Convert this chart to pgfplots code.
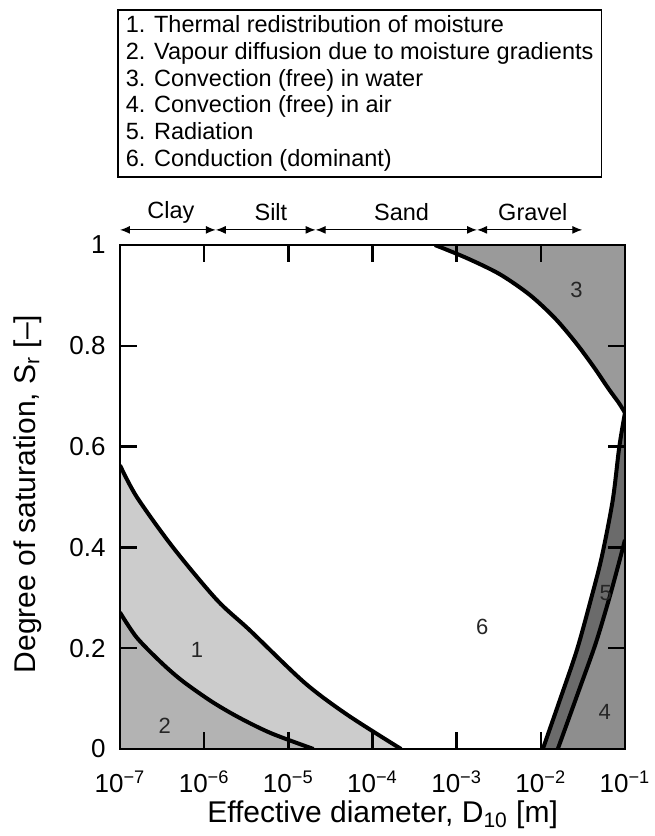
\documentclass[border=0pt]{standalone}
\usepackage{fontspec}
\setmainfont{Liberation Sans}
\usepackage{pgfplots}
\pgfplotsset{compat=1.18}
\usetikzlibrary{arrows.meta}
\definecolor{cA}{HTML}{CCCCCC}
\definecolor{cB}{HTML}{B3B3B3}
\definecolor{cC}{HTML}{9A9A9A}
\definecolor{cD}{HTML}{8E8E8E}
\definecolor{cE}{HTML}{6B6B6B}
\begin{document}
\begin{tikzpicture}
\begin{axis}[
  scale only axis, width=252.5pt, height=252pt,
  xmode=log, log basis x=10,
  xmin=1e-7, xmax=1e-1, ymin=0, ymax=1,
  xtick={1e-7,1e-6,1e-5,1e-4,1e-3,1e-2,1e-1},
  xticklabels={10\textsuperscript{−7},10\textsuperscript{−6},10\textsuperscript{−5},10\textsuperscript{−4},10\textsuperscript{−3},10\textsuperscript{−2},10\textsuperscript{−1}},
  ytick={0,0.2,0.4,0.6,0.8,1},
  yticklabels={0,0.2,0.4,0.6,0.8,1},
  xminorticks=false,
  tick pos=both, tick align=inside, major tick length=8.5pt,
  every tick/.style={black, line width=1.2pt},
  axis line style={line width=1.25pt},
  ticklabel style={font=\fontsize{13}{15}\selectfont},
  xticklabel style={yshift=-7.5pt},
  yticklabel style={xshift=-3.7pt},
  every axis x label/.style={at={(axis description cs:0.52,-0.146)}, anchor=base},
  every axis y label/.style={at={(axis description cs:-0.168,0.506)}, rotate=90, anchor=base},
  label style={font=\fontsize{15}{18}\selectfont},
  xlabel={Effective diameter, D\textsubscript{10} [m]},
  ylabel={Degree of saturation, S\textsubscript{r} [–]},
  axis on top, clip mode=individual,
]
% region 1 (thermal redistribution)
\addplot[fill=cA, draw=none, smooth] coordinates {
 (1e-7,0.563) (1.585e-7,0.500) (4.266e-7,0.400) (1.413e-6,0.296) (3.467e-6,0.236)
 (1.549e-5,0.132) (5.012e-5,0.068) (2.188e-4,0)} \closedcycle;
% region 2 (vapour diffusion)
\addplot[fill=cB, draw=none, smooth] coordinates {
 (1e-7,0.271) (1.585e-7,0.221) (3.162e-7,0.170) (5.623e-7,0.134) (1.259e-6,0.093)
 (2.692e-6,0.061) (6.310e-6,0.031) (1.995e-5,0)} \closedcycle;
% region 3 (convection in water)
\addplot[fill=cC, draw=none, smooth] coordinates {
 (5.508e-4,1) (1.321e-3,0.974) (3.258e-3,0.942) (7.396e-3,0.901) (1.466e-2,0.855)
 (2.606e-2,0.806) (4.256e-2,0.758) (6.427e-2,0.714) (8.433e-2,0.687) (0.1,0.667)} -- (axis cs:0.1,1) -- cycle;
% region 5 (radiation)
\addplot[fill=cE, draw=none, smooth] coordinates {
 (0.1,0.667) (8.551e-2,0.599) (7.161e-2,0.494) (5.297e-2,0.381) (3.926e-2,0.296)
 (2.679e-2,0.196) (1.683e-2,0.097) (1.057e-2,0)} -- (axis cs:0.1,0) -- cycle;
% region 4 (convection in air)
\addplot[fill=cD, draw=none, smooth] coordinates {
 (1.592e-2,0) (2.904e-2,0.121) (4.498e-2,0.210) (6.427e-2,0.296) (8.222e-2,0.361) (0.1,0.415)} -- (axis cs:0.1,0) -- cycle;
% boundaries
\addplot[black, line width=2pt, smooth] coordinates {
 (1e-7,0.563) (1.585e-7,0.500) (4.266e-7,0.400) (1.413e-6,0.296) (3.467e-6,0.236)
 (1.549e-5,0.132) (5.012e-5,0.068) (2.188e-4,0)};
\addplot[black, line width=2pt, smooth] coordinates {
 (1e-7,0.271) (1.585e-7,0.221) (3.162e-7,0.170) (5.623e-7,0.134) (1.259e-6,0.093)
 (2.692e-6,0.061) (6.310e-6,0.031) (1.995e-5,0)};
\addplot[black, line width=2pt, smooth] coordinates {
 (5.508e-4,1) (1.321e-3,0.974) (3.258e-3,0.942) (7.396e-3,0.901) (1.466e-2,0.855)
 (2.606e-2,0.806) (4.256e-2,0.758) (6.427e-2,0.714) (8.433e-2,0.687) (0.1,0.667)};
\addplot[black, line width=2pt, smooth] coordinates {
 (0.1,0.667) (8.551e-2,0.599) (7.161e-2,0.494) (5.297e-2,0.381) (3.926e-2,0.296)
 (2.679e-2,0.196) (1.683e-2,0.097) (1.057e-2,0)};
\addplot[black, line width=2pt, smooth] coordinates {
 (1.592e-2,0) (2.904e-2,0.121) (4.498e-2,0.210) (6.427e-2,0.296) (8.222e-2,0.361) (0.1,0.415)};
% region numbers
\begin{scope}[every node/.style={font=\fontsize{11}{12}\selectfont, text=black!85}]
\node at (axis cs:8.22e-7,0.196) {1};
\node at (axis cs:3.41e-7,0.046) {2};
\node at (axis cs:2.65e-2,0.911) {3};
\node at (axis cs:5.75e-2,0.074) {4};
\node at (axis cs:5.92e-2,0.309) {5};
\node at (axis cs:2.02e-3,0.243) {6};
\end{scope}
% soil classes
\begin{scope}[line width=0.6pt, {Latex[length=5pt,width=4pt]}-{Latex[length=5pt,width=4pt]}]
\draw (axis cs:1e-7,1.030) -- (axis cs:1.374e-6,1.030);
\draw (axis cs:1.374e-6,1.030) -- (axis cs:2.113e-5,1.030);
\draw (axis cs:2.113e-5,1.030) -- (axis cs:1.746e-3,1.030);
\draw (axis cs:1.746e-3,1.030) -- (axis cs:3.112e-2,1.030);
\end{scope}
\begin{scope}[every node/.style={font=\fontsize{11.75}{13}\selectfont}]
\node at (axis cs:4.03e-7,1.065) {Clay};
\node at (axis cs:6.21e-6,1.065) {Silt};
\node at (axis cs:2.22e-4,1.065) {Sand};
\node at (axis cs:8.04e-3,1.065) {Gravel};
\end{scope}
\end{axis}
\node[draw, line width=0.8pt, anchor=north west, align=left, inner xsep=4pt, inner ysep=3pt,
  font=\fontsize{11.75}{13.35}\selectfont] at (-1.5pt,370pt)
  {1. Thermal redistribution of moisture\\
   2. Vapour diffusion due to moisture gradients\\
   3. Convection (free) in water\\
   4. Convection (free) in air\\
   5. Radiation\\
   6. Conduction (dominant)};
\pgfresetboundingbox
\path[use as bounding box] (-60pt,-43.5pt) rectangle (267pt,374.5pt);
\end{tikzpicture}
\end{document}
